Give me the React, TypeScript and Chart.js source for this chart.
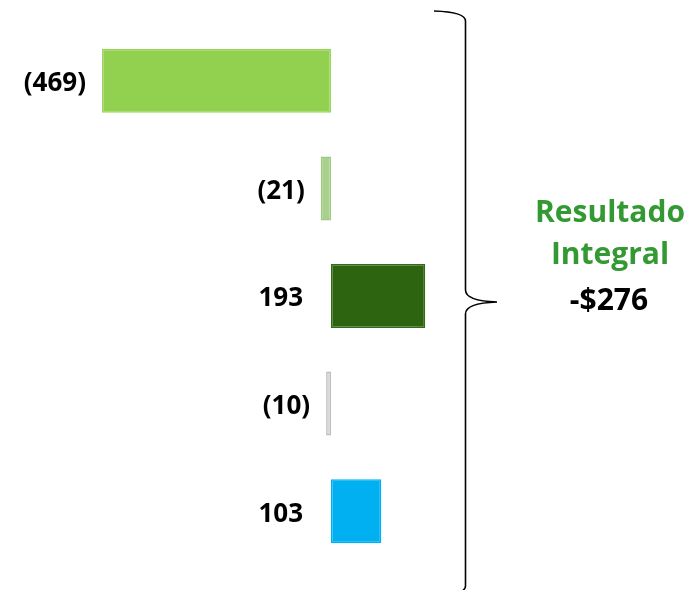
import React, { useEffect, useRef } from "react";
import { Chart, registerables } from "chart.js";

Chart.register(...registerables);

const categories = ["1", "2", "3", "4", "5"];
const values = [-469, -21, 193, -10, 103];
const valueLabels = ["(469)", "(21)", "193", "(10)", "103"];
const barColors = ["#92D050", "#A9D18E", "#2D6410", "#D9D9D9", "#00B0F0"];
const barBorders = ["#9AD45C", "#9DC983", "#336B17", "#BDBDBD", "#00B0F0"];
const summaryTitle = ["Resultado", "Integral"];
const summaryValue = "-$276";

const FONT = "'Open Sans', Lato, sans-serif";

const labelPlugin = {
  id: "valueLabels",
  afterDatasetsDraw(chart: any) {
    const ctx = chart.ctx;
    const meta = chart.getDatasetMeta(0);
    const xZero = chart.scales.x.getPixelForValue(0);
    ctx.save();
    ctx.font = `bold 26px ${FONT}`;
    ctx.fillStyle = "#000000";
    ctx.textAlign = "right";
    ctx.textBaseline = "middle";
    meta.data.forEach((bar: any, i: number) => {
      const p = bar.getProps(["x", "y", "base"], true);
      const v = values[i];
      const anchor = v < 0 ? Math.min(p.x, p.base) - 16 : xZero - 28;
      ctx.fillText(valueLabels[i], anchor, p.y + 3);
    });
    ctx.restore();
  },
};

const bracePlugin = {
  id: "brace",
  afterDraw(chart: any) {
    const ctx = chart.ctx;
    const x = 465.5;
    const top = 11;
    const mid = 302;
    const bottom = 596;
    ctx.save();
    ctx.strokeStyle = "#000000";
    ctx.lineWidth = 1.6;
    ctx.beginPath();
    ctx.moveTo(434, top);
    ctx.quadraticCurveTo(x, top + 1, x, top + 10);
    ctx.lineTo(x, mid - 12);
    ctx.quadraticCurveTo(x, mid - 1, 497, mid);
    ctx.moveTo(497, mid);
    ctx.quadraticCurveTo(x, mid + 1, x, mid + 12);
    ctx.lineTo(x, bottom - 10);
    ctx.quadraticCurveTo(x, bottom - 1, 434, bottom);
    ctx.stroke();

    ctx.textAlign = "center";
    ctx.textBaseline = "alphabetic";
    ctx.font = `bold 30px ${FONT}`;
    ctx.fillStyle = "#339933";
    ctx.fillText(summaryTitle[0], 610, 222);
    ctx.fillText(summaryTitle[1], 610, 264);
    ctx.fillStyle = "#000000";
    ctx.fillText(summaryValue, 609, 310);
    ctx.restore();
  },
};

export default function App() {
  const canvasRef = useRef<HTMLCanvasElement | null>(null);

  useEffect(() => {
    if (!canvasRef.current) return;
    const chart = new Chart(canvasRef.current, {
      type: "bar",
      data: {
        labels: categories,
        datasets: [
          {
            data: values,
            backgroundColor: barColors,
            borderColor: barBorders,
            borderWidth: 1.5,
            borderSkipped: false,
            barPercentage: 0.595,
            categoryPercentage: 1,
          },
        ],
      },
      options: {
        indexAxis: "y",
        animation: false,
        responsive: true,
        maintainAspectRatio: false,
        layout: { padding: { left: 38, right: 65, top: 27, bottom: 25 } },
        plugins: {
          legend: { display: false },
          tooltip: { enabled: false },
          title: { display: false },
        },
        scales: {
          x: { display: false, min: -600, max: 600 },
          y: { display: false },
        },
      },
      plugins: [labelPlugin, bracePlugin],
    });
    return () => chart.destroy();
  }, []);

  return (
    <div style={{ position: "fixed", left: 0, top: 0, width: 689, height: 590, background: "#ffffff" }}>
      <canvas ref={canvasRef} />
    </div>
  );
}
